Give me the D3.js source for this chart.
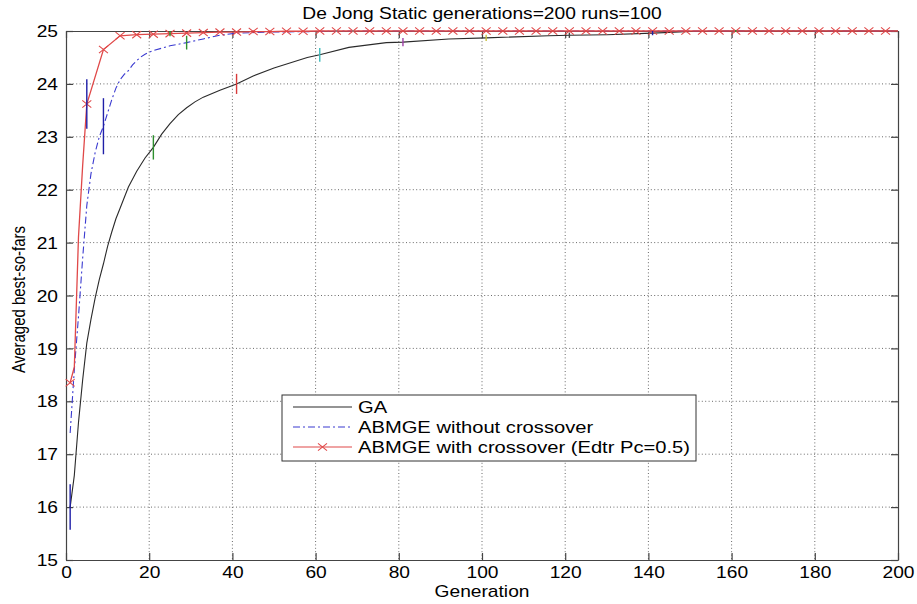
<!DOCTYPE html>
<html>
<head>
<meta charset="utf-8">
<script src="https://cdn.jsdelivr.net/npm/d3@7/dist/d3.min.js"></script>
<style>
  body { margin: 0; background: #fff; }
  svg { display: block; }
</style>
</head>
<body>
<svg id="chart" width="917" height="604"></svg>
<script>
// ---- Chart text ----
const chartTitle = "De Jong Static generations=200 runs=100";
const xTitle = "Generation";
const yTitle = "Averaged best-so-fars";
const legendLabels = ["GA", "ABMGE without crossover", "ABMGE with crossover (Edtr Pc=0.5)"];

// ---- Axis ticks ----
const xTickValues = [0, 20, 40, 60, 80, 100, 120, 140, 160, 180, 200];
const yTickValues = [15, 16, 17, 18, 19, 20, 21, 22, 23, 24, 25];

// ---- GA (averaged best-so-far per generation) ----
const gaGen = [1, 2, 3, 4, 5, 6, 7, 8, 9, 10, 11, 12, 13, 15, 17, 19, 21, 23, 25, 27, 29, 31, 33, 37, 41, 45, 50, 58, 61, 68, 77, 81, 92, 101, 116, 121, 130, 141, 150, 161, 181, 200];
const gaVal = [16.0, 16.6, 17.6, 18.4, 19.1, 19.55, 19.95, 20.3, 20.6, 20.93, 21.2, 21.45, 21.65, 22.05, 22.35, 22.6, 22.8, 23.05, 23.25, 23.42, 23.55, 23.66, 23.75, 23.88, 24.0, 24.15, 24.3, 24.5, 24.55, 24.69, 24.78, 24.79, 24.85, 24.87, 24.91, 24.92, 24.93, 24.96, 24.99, 25.0, 25.0, 25.0];

// ---- ABMGE without crossover ----
const noXGen = [1, 2, 3, 4, 5, 6, 7, 8, 9, 10, 11, 12, 13, 14, 15, 16, 17, 18, 19, 20, 21, 25, 29, 33, 37, 41, 49, 60, 69, 89, 109, 129, 149, 169, 189, 200];
const noXVal = [17.4, 18.6, 19.6, 20.7, 21.7, 22.3, 22.7, 23.0, 23.2, 23.45, 23.7, 23.92, 24.08, 24.18, 24.25, 24.36, 24.44, 24.51, 24.56, 24.6, 24.63, 24.72, 24.78, 24.85, 24.92, 24.96, 24.98, 24.99, 25.0, 25.0, 25.0, 25.0, 25.0, 25.0, 25.0, 25.0];

// ---- ABMGE with crossover (Edtr Pc=0.5) ----
const withXGen = [1, 2, 3, 4, 5, 9, 13, 17, 21, 25, 29, 33, 37, 41, 45, 49, 53, 57, 61, 65, 69, 73, 77, 81, 85, 89, 93, 97, 101, 105, 109, 113, 117, 121, 125, 129, 133, 137, 141, 145, 149, 153, 157, 161, 165, 169, 173, 177, 181, 185, 189, 193, 197, 200];
const withXVal = [18.35, 18.65, 21.1, 22.45, 23.62, 24.65, 24.91, 24.93, 24.94, 24.95, 24.96, 24.97, 24.98, 24.98, 24.99, 24.99, 24.995, 24.995, 25.0, 25.0, 25.0, 25.0, 25.0, 25.0, 25.0, 25.0, 25.0, 25.0, 25.0, 25.0, 25.0, 25.0, 25.0, 25.0, 25.0, 25.0, 25.0, 25.0, 25.0, 25.0, 25.0, 25.0, 25.0, 25.0, 25.0, 25.0, 25.0, 25.0, 25.0, 25.0, 25.0, 25.0, 25.0, 25.0];
// generations that carry an "x" marker (every 4th generation)
const withXMarkGen = [1, 5, 9, 13, 17, 21, 25, 29, 33, 37, 41, 45, 49, 53, 57, 61, 65, 69, 73, 77, 81, 85, 89, 93, 97, 101, 105, 109, 113, 117, 121, 125, 129, 133, 137, 141, 145, 149, 153, 157, 161, 165, 169, 173, 177, 181, 185, 189, 193, 197];

// ---- Standard deviations shown as error bars ----
const gaErrGen = [1, 21, 41, 61, 81, 101, 121, 141, 161, 181];
const gaErrDev = [0.43, 0.23, 0.19, 0.13, 0.08, 0.06, 0.05, 0.04, 0.02, 0.01];
const noXErrGen = [9, 29, 49, 69, 89, 109, 129, 149, 169, 189];
const noXErrDev = [0.53, 0.13, 0.03, 0.01, 0.0, 0.0, 0.0, 0.0, 0.0, 0.0];
const withXErrGen = [5, 25, 45, 65, 85, 105, 125, 145, 165, 185];
const withXErrDev = [0.47, 0.05, 0.02, 0.01, 0.0, 0.0, 0.0, 0.0, 0.0, 0.0];

// error bar colour order (b, g, r, c, m, y, k)
const errColors = ["#1f1fa8", "#2e8f2e", "#d83a3a", "#3cbcbc", "#a040a8", "#c8c040", "#444444"];

// ---- Layout ----
const W = 917, H = 604;
const M = { left: 66, right: 19, top: 31, bottom: 44 };
const plotW = W - M.left - M.right;
const plotH = H - M.top - M.bottom;
const SX = 1.2; // horizontal stretch applied to all lettering

const svg = d3.select("#chart");
const g = svg.append("g").attr("transform", `translate(${M.left},${M.top})`);

const x = d3.scaleLinear().domain([0, 200]).range([0, plotW]);
const y = d3.scaleLinear().domain([15, 25]).range([plotH, 0]);

const font = "'Liberation Sans', Arial, Helvetica, sans-serif";

// ---- Dotted grid ----
g.append("g").selectAll("line")
  .data(xTickValues.slice(1, -1)).join("line")
  .attr("x1", d => x(d)).attr("x2", d => x(d))
  .attr("y1", 0).attr("y2", plotH)
  .attr("stroke", "#6a6a6a").attr("stroke-width", 1)
  .attr("stroke-dasharray", "1,2.4");
g.append("g").selectAll("line")
  .data(yTickValues.slice(1, -1)).join("line")
  .attr("x1", 0).attr("x2", plotW)
  .attr("y1", d => y(d)).attr("y2", d => y(d))
  .attr("stroke", "#6a6a6a").attr("stroke-width", 1)
  .attr("stroke-dasharray", "1,2.4");

// ---- Axes (box with inward ticks on all sides) ----
const tickLen = 7;
const axisColor = "#444";
const xAxisB = d3.axisBottom(x).tickValues(xTickValues).tickSizeInner(-tickLen).tickSizeOuter(0);
const xAxisT = d3.axisTop(x).tickValues(xTickValues).tickSizeInner(-tickLen).tickSizeOuter(0).tickFormat("");
const yAxisL = d3.axisLeft(y).tickValues(yTickValues).tickSizeInner(-tickLen).tickSizeOuter(0);
const yAxisR = d3.axisRight(y).tickValues(yTickValues).tickSizeInner(-tickLen).tickSizeOuter(0).tickFormat("");

function styleAxis(sel) {
  sel.select(".domain").attr("stroke", axisColor).attr("stroke-width", 1.2);
  sel.selectAll(".tick line").attr("stroke", axisColor).attr("stroke-width", 1.2);
  sel.selectAll(".tick text").attr("fill", "#000")
    .style("font-family", font).style("font-size", "16px");
}
g.append("g").attr("transform", `translate(0,${plotH})`).call(xAxisB).call(styleAxis)
  .selectAll(".tick text").attr("x", 0).attr("y", 18).attr("dy", 0)
  .attr("transform", `scale(${SX},1)`);
g.append("g").call(xAxisT).call(styleAxis);
g.append("g").call(yAxisL).call(styleAxis)
  .selectAll(".tick text").attr("x", -8 / SX).attr("dy", "0.35em")
  .attr("transform", `scale(${SX},1)`);
g.append("g").attr("transform", `translate(${plotW},0)`).call(yAxisR).call(styleAxis);

// ---- Series lines ----
const line = d3.line().x(d => x(d[0])).y(d => y(d[1]));
const pairs = (gs, vs) => gs.map((gen, i) => [gen, vs[i]]);
const valueAt = (gs, vs, gen) => vs[gs.indexOf(gen)];

g.append("path").datum(pairs(gaGen, gaVal))
  .attr("d", line).attr("fill", "none")
  .attr("stroke", "#2a2a2a").attr("stroke-width", 1.1);

g.append("path").datum(pairs(noXGen, noXVal))
  .attr("d", line).attr("fill", "none")
  .attr("stroke", "#3a3ad0").attr("stroke-width", 1.1)
  .attr("stroke-dasharray", "7,3,2,3");

g.append("path").datum(pairs(withXGen, withXVal))
  .attr("d", line).attr("fill", "none")
  .attr("stroke", "#e04848").attr("stroke-width", 1.3);

// "x" markers on the crossover series
const mk = 4.5, mkH = 3.6;
const crossPath = (cx, cy) =>
  `M${cx - mk},${cy - mkH}L${cx + mk},${cy + mkH}M${cx - mk},${cy + mkH}L${cx + mk},${cy - mkH}`;
g.append("g").selectAll("path")
  .data(withXMarkGen.map(gen => [gen, valueAt(withXGen, withXVal, gen)]))
  .join("path")
  .attr("d", d => crossPath(x(d[0]), y(d[1])))
  .attr("stroke", "#e04848").attr("stroke-width", 1.1).attr("fill", "none");

// ---- Error bars ----
function errorBars(gs, vs, errGen, errDev) {
  g.append("g").selectAll("line")
    .data(errGen.map((gen, i) => ({ gen, mean: valueAt(gs, vs, gen), dev: errDev[i], c: errColors[i % errColors.length] })))
    .join("line")
    .attr("x1", d => x(d.gen)).attr("x2", d => x(d.gen))
    .attr("y1", d => y(d.mean - d.dev)).attr("y2", d => y(d.mean + d.dev))
    .attr("stroke", d => d.c).attr("stroke-width", 1.4);
}
errorBars(gaGen, gaVal, gaErrGen, gaErrDev);
errorBars(noXGen, noXVal, noXErrGen, noXErrDev);
errorBars(withXGen, withXVal, withXErrGen, withXErrDev);

// ---- Titles ----
svg.append("text")
  .attr("transform", `translate(${M.left + plotW / 2},19) scale(${SX},1)`)
  .attr("text-anchor", "middle")
  .style("font-family", font).style("font-size", "16px")
  .text(chartTitle);

svg.append("text")
  .attr("transform", `translate(${M.left + plotW / 2},597) scale(${SX},1)`)
  .attr("text-anchor", "middle")
  .style("font-family", font).style("font-size", "16px")
  .text(xTitle);

svg.append("text")
  .attr("transform", `translate(25,${M.top + plotH / 2 + 4}) scale(${SX},1) rotate(-90)`)
  .attr("text-anchor", "middle")
  .style("font-family", font).style("font-size", "15px")
  .text(yTitle);

// ---- Legend ----
const lg = svg.append("g").attr("transform", "translate(282,395)");
lg.append("rect").attr("x", 0).attr("y", 0).attr("width", 414).attr("height", 66)
  .attr("fill", "#fff").attr("stroke", "#333").attr("stroke-width", 1);
const legendStyles = [
  { stroke: "#2a2a2a", dash: null, marker: false },
  { stroke: "#3a3ad0", dash: "7,3,2,3", marker: false },
  { stroke: "#e04848", dash: null, marker: true }
];
legendLabels.forEach((label, i) => {
  const ly = 12 + i * 20;
  const s = legendStyles[i];
  const l = lg.append("line").attr("x1", 11).attr("x2", 70).attr("y1", ly).attr("y2", ly)
    .attr("stroke", s.stroke).attr("stroke-width", 1.1);
  if (s.dash) l.attr("stroke-dasharray", s.dash);
  if (s.marker) {
    lg.append("path").attr("d", crossPath(40.5, ly))
      .attr("stroke", s.stroke).attr("stroke-width", 1.1).attr("fill", "none");
  }
  lg.append("text")
    .attr("transform", `translate(76,${ly + 6}) scale(${SX},1)`)
    .style("font-family", font).style("font-size", "16.8px")
    .text(label);
});
</script>
</body>
</html>
